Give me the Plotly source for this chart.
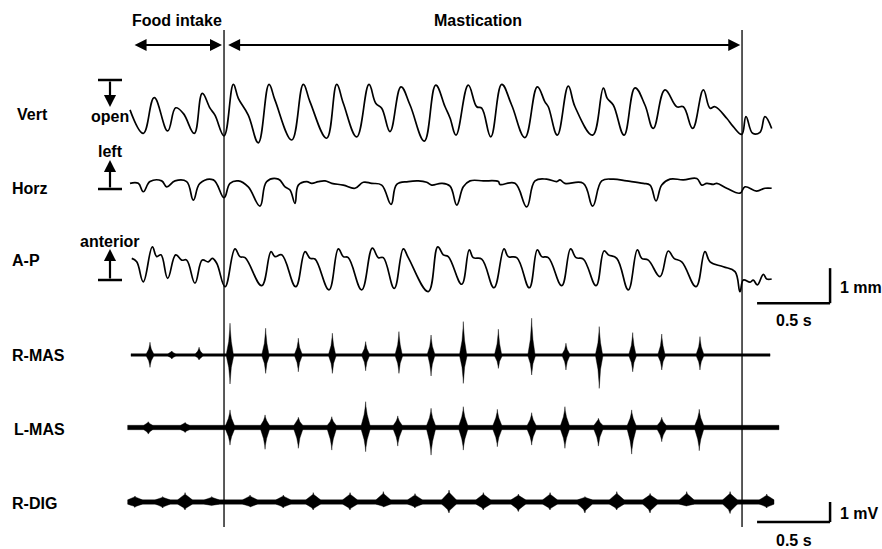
import plotly.graph_objects as go

# ---------------- data (time in s, displacement in mm, EMG in mV) ----------------
vert_t = [0.000,0.091,0.166,0.258,0.313,0.365,0.440,0.495,0.548,0.582,0.644,0.708,0.742,0.810,0.879,
          0.952,0.993,1.108,1.187,1.233,1.347,1.416,1.461,1.553,1.637,1.683,1.724,1.781,1.856,1.918,
          2.016,2.094,2.158,2.192,2.233,2.317,2.375,2.409,2.471,2.546,2.614,2.705,2.790,2.842,2.865,
          2.927,3.002,3.048,3.169,3.242,3.269,3.310,3.384,3.459,3.527,3.584,3.664,3.745,3.790,3.854,
          3.927,3.973,4.007,4.087,4.132,4.190,4.219,4.265,4.315,4.349,4.395]
vert_mm = [0.06,-0.61,0.41,-0.54,0.12,-0.04,-0.61,0.53,0.11,-0.09,-0.68,0.79,0.39,-0.09,-0.88,
           0.79,0.34,-0.80,0.79,0.29,-0.75,0.79,0.25,-0.71,0.79,0.25,0.11,-0.56,0.72,0.20,
           -0.83,0.77,0.15,-0.17,-0.66,0.77,0.15,0.11,-0.71,0.79,0.20,-0.73,0.72,0.29,0.15,
           -0.66,0.74,0.15,-0.66,0.68,0.39,0.20,-0.66,0.69,0.20,-0.47,0.63,0.15,0.15,-0.47,
           0.63,0.11,0.15,-0.18,-0.42,-0.64,-0.13,-0.61,-0.58,-0.13,-0.47]

horz_t = [0.000,0.057,0.091,0.137,0.217,0.251,0.308,0.388,0.434,0.479,0.571,0.644,0.685,0.742,0.810,
          0.890,0.936,1.016,1.062,1.096,1.130,1.153,1.210,1.245,1.290,1.336,1.382,1.461,1.541,1.598,
          1.655,1.724,1.788,1.827,1.906,1.975,2.032,2.066,2.134,2.192,2.238,2.283,2.329,2.420,2.523,
          2.534,2.637,2.717,2.774,2.854,2.923,2.945,2.979,3.105,3.169,3.231,3.310,3.402,3.516,3.562,
          3.603,3.642,3.699,3.790,3.882,3.916,3.950,3.996,4.019,4.087,4.178,4.212,4.292,4.349,4.395]
horz_mm = [-0.01,-0.01,-0.25,0.04,0.06,-0.11,0.06,0.04,-0.49,-0.01,0.09,-0.42,-0.01,0.06,-0.11,
           -0.66,0.04,0.11,-0.11,-0.20,-0.58,-0.06,0.04,-0.01,0.04,0.06,-0.01,-0.06,-0.15,0.02,
           -0.01,-0.06,-0.61,-0.04,0.04,0.06,0.02,-0.06,-0.01,-0.09,-0.63,-0.11,0.06,0.06,0.04,
           -0.04,-0.01,-0.68,0.06,0.11,0.04,0.09,-0.01,-0.01,-0.66,0.06,0.11,0.06,-0.01,-0.06,
           -0.51,-0.06,0.11,0.09,0.13,-0.06,-0.01,-0.04,-0.01,-0.15,-0.29,-0.11,-0.23,-0.15,-0.15]

ap_t = [0.012,0.046,0.091,0.153,0.183,0.212,0.258,0.313,0.354,0.388,0.445,0.495,0.536,0.564,0.594,
        0.651,0.719,0.753,0.788,0.902,0.966,0.993,1.039,1.135,1.199,1.233,1.267,1.363,1.427,1.461,
        1.495,1.587,1.660,1.701,1.735,1.810,1.872,1.906,2.043,2.108,2.146,2.180,2.272,2.324,2.351,
        2.409,2.493,2.562,2.591,2.649,2.735,2.790,2.820,2.865,2.957,3.018,3.055,3.105,3.192,3.247,
        3.277,3.334,3.413,3.475,3.505,3.550,3.630,3.687,3.726,3.779,3.877,3.938,3.973,4.064,4.144,
        4.178,4.201,4.247,4.269,4.297,4.338,4.361,4.395]
ap_mm = [0.19,0.09,-0.48,0.52,0.24,0.29,-0.38,0.29,0.14,0.14,-0.52,0.14,0.09,0.19,0.05,
         -0.62,0.46,0.24,0.21,-0.59,0.38,0.24,0.29,-0.62,0.38,0.19,0.17,-0.71,0.46,0.24,
         0.21,-0.71,0.48,0.21,0.21,-0.67,0.46,0.21,-0.76,0.52,0.29,0.24,-0.55,0.43,0.21,
         0.17,-0.65,0.46,0.24,0.21,-0.65,0.43,0.24,0.21,-0.59,0.46,0.21,0.17,-0.59,0.40,
         0.29,0.19,-0.71,0.43,0.19,0.14,-0.33,0.40,0.19,0.09,-0.62,0.38,0.09,-0.05,-0.19,
         -0.76,-0.43,-0.49,-0.43,-0.57,-0.27,-0.40,-0.40]

# EMG bursts: centre time (s), positive peak (mV), negative peak (mV)
rmas_t   = [0.137,0.286,0.473,0.685,0.929,1.153,1.386,1.614,1.842,2.062,2.283,2.523,2.751,2.986,3.214,3.443,3.642,3.904]
rmas_top = [0.64,0.20,0.39,1.59,1.34,0.84,1.09,0.67,1.17,1.00,1.67,1.29,1.84,0.59,1.42,1.12,1.05,0.92]
rmas_bot = [-0.62,-0.20,-0.25,-1.45,-0.92,-0.84,-0.92,-0.79,-0.92,-1.05,-1.42,-0.67,-1.00,-0.75,-1.67,-0.84,-0.75,-0.75]

lmas_t   = [0.125,0.377,0.685,0.925,1.153,1.382,1.614,1.834,2.062,2.283,2.516,2.751,2.979,3.208,3.436,3.642,3.899]
lmas_top = [0.29,0.25,0.88,0.63,0.51,0.54,1.29,0.58,0.96,1.04,0.91,0.74,1.04,0.46,0.88,0.51,0.91]
lmas_bot = [-0.33,-0.25,-0.88,-1.09,-1.04,-1.13,-1.21,-0.93,-1.38,-1.13,-0.96,-0.88,-1.04,-0.93,-1.33,-0.71,-1.16]

rdig_t   = [0.034,0.224,0.377,0.560,0.822,1.050,1.255,1.507,1.735,1.952,2.185,2.420,2.660,2.877,3.116,3.334,3.562,3.813,4.110,4.361]
rdig_top = [0.30,0.27,0.47,0.27,0.35,0.35,0.47,0.47,0.52,0.42,0.60,0.47,0.40,0.47,0.27,0.52,0.43,0.52,0.52,0.40]
rdig_bot = [-0.27,-0.30,-0.40,-0.20,-0.25,-0.30,-0.40,-0.40,-0.25,-0.30,-0.55,-0.40,-0.48,-0.40,-0.55,-0.40,-0.55,-0.23,-0.58,-0.30]

# baseline noise half-amplitude (mV) and recording span (s)
emg_noise = {"R-MAS": 0.065, "L-MAS": 0.11, "R-DIG": 0.11}
emg_span = {"R-MAS": (0.007, 4.384), "L-MAS": (-0.016, 4.445), "R-DIG": (0.007, 4.384)}

events = [0.644, 4.192]          # end of food intake, end of mastication (s)
phase_labels = ["Food intake", "Mastication"]
channel_labels = ["Vert", "Horz", "A-P", "R-MAS", "L-MAS", "R-DIG"]

for a, b in [(vert_t, vert_mm), (horz_t, horz_mm), (ap_t, ap_mm), (rmas_t, rmas_top), (rmas_t, rmas_bot),
             (lmas_t, lmas_top), (lmas_t, lmas_bot), (rdig_t, rdig_top), (rdig_t, rdig_bot)]:
    assert len(a) == len(b)

# ---------------- layout constants ----------------
W, H = 882, 549
PX_PER_S = 146.0
T0_PX = 130.0
PX_PER_MM = 35.0
PX_PER_MV = 20.0
baseline_px = {"Vert": 112, "Horz": 183, "A-P": 265, "R-MAS": 355, "L-MAS": 427.5, "R-DIG": 502}
axis_of = {"Vert": "y", "Horz": "y2", "A-P": "y3", "R-MAS": "y4", "L-MAS": "y5", "R-DIG": "y6"}
FONT = "Liberation Sans, Arial, sans-serif"


def py(p):   # pixel row -> paper
    return 1 - p / H


def px(p):   # pixel column -> paper
    return p / W


fig = go.Figure()

# mechanical traces
for name, t, v in [("Vert", vert_t, vert_mm), ("Horz", horz_t, horz_mm), ("A-P", ap_t, ap_mm)]:
    fig.add_trace(go.Scatter(x=t, y=v, yaxis=axis_of[name], mode="lines",
                             line=dict(color="black", width=1.7, shape="spline", smoothing=1.15),
                             hoverinfo="skip", showlegend=False))

# EMG traces: baseline band + burst spindles (glyph profiles are styling only)
profiles = {"R-MAS": (0.05, [(-0.5, 0), (-0.18, 0.4), (-0.04, 0.8), (0, 1), (0.04, 0.8), (0.18, 0.4), (0.5, 0)]),
            "L-MAS": (0.06, [(-0.5, 0), (-0.18, 0.45), (-0.04, 0.8), (0, 1), (0.04, 0.8), (0.18, 0.45), (0.5, 0)]),
            "R-DIG": (0.10, [(-0.5, 0), (-0.3, 0.3), (-0.1, 0.6), (-0.03, 0.75), (0, 1),
                             (0.05, 0.7), (0.15, 0.55), (0.3, 0.3), (0.5, 0)])}
for name, bt, top, bot in [("R-MAS", rmas_t, rmas_top, rmas_bot),
                           ("L-MAS", lmas_t, lmas_top, lmas_bot),
                           ("R-DIG", rdig_t, rdig_top, rdig_bot)]:
    n = emg_noise[name]
    t0, t1 = emg_span[name]
    w, prof = profiles[name]
    xs = [t0, t1, t1, t0, t0, None]
    ys = [n, n, -n, -n, n, None]
    for c, a, b in zip(bt, top, bot):
        up = [(c + f * w, n + (a - n) * g) for f, g in prof]
        dn = [(c + f * w, -n + (b + n) * g) for f, g in reversed(prof)]
        pts = up + dn + [up[0]]
        xs += [p[0] for p in pts] + [None]
        ys += [p[1] for p in pts] + [None]
    fig.add_trace(go.Scatter(x=xs, y=ys, yaxis=axis_of[name], mode="lines", fill="toself",
                             fillcolor="black", line=dict(color="black", width=0.4),
                             hoverinfo="skip", showlegend=False))

# axes
xr = [-T0_PX / PX_PER_S, (W - T0_PX) / PX_PER_S]
layout_axes = dict(xaxis=dict(range=xr, visible=False, fixedrange=True))
for name, ax in axis_of.items():
    s = PX_PER_MM if name in ("Vert", "Horz", "A-P") else PX_PER_MV
    b = baseline_px[name]
    key = "yaxis" if ax == "y" else "yaxis" + ax[1:]
    d = dict(range=[(b - H) / s, b / s], visible=False, fixedrange=True, domain=[0, 1])
    if ax != "y":
        d["overlaying"] = "y"
    layout_axes[key] = d

shapes = []
# event lines
for e in events:
    shapes.append(dict(type="line", xref="x", yref="paper", x0=e, x1=e, y0=py(527), y1=py(30),
                       line=dict(color="black", width=1.3)))
# T-bars for direction indicators
for yb in [80, 189, 280]:
    shapes.append(dict(type="line", xref="paper", yref="paper", x0=px(98), x1=px(122), y0=py(yb), y1=py(yb),
                       line=dict(color="black", width=2.5)))
# scale bars: 1 mm / 0.5 s on A-P axis, 1 mV / 0.5 s on R-DIG axis
sb_x1 = 4.795
ap_b = -1.09
shapes.append(dict(type="line", xref="x", yref="y3", x0=sb_x1, x1=sb_x1, y0=ap_b, y1=ap_b + 1.0,
                   line=dict(color="black", width=2.5)))
shapes.append(dict(type="line", xref="x", yref="y3", x0=sb_x1 - 0.5, x1=sb_x1, y0=ap_b, y1=ap_b,
                   line=dict(color="black", width=2.5)))
dg_b = -1.0
shapes.append(dict(type="line", xref="x", yref="y6", x0=sb_x1, x1=sb_x1, y0=dg_b, y1=dg_b + 1.0,
                   line=dict(color="black", width=2.5)))
shapes.append(dict(type="line", xref="x", yref="y6", x0=sb_x1 - 0.5, x1=sb_x1, y0=dg_b, y1=dg_b,
                   line=dict(color="black", width=2.5)))

bold = dict(family=FONT, size=16, color="black", weight="bold")
ann = []
# channel labels
label_pos = {"Vert": (15, 114), "Horz": (9.5, 188), "A-P": (10, 260.5),
             "R-MAS": (9.5, 355), "L-MAS": (11.5, 429), "R-DIG": (9.5, 503)}
for name in channel_labels:
    x0, y0 = label_pos[name]
    ann.append(dict(text=name, xref="paper", yref="paper", x=px(x0), y=py(y0), xanchor="left",
                    yanchor="middle", showarrow=False, font=bold))
# direction words
for txt, xc, yc in [("open", 109.5, 116.5), ("left", 110.5, 151.5), ("anterior", 110, 241.5)]:
    ann.append(dict(text=txt, xref="paper", yref="paper", x=px(xc), y=py(yc), xanchor="center",
                    yanchor="middle", showarrow=False, font=bold))
# direction arrows
for tip, tail in [(107, 80), (160, 189), (249, 280)]:
    ann.append(dict(text="", xref="paper", yref="paper", x=px(110), y=py(tip), ax=0, ay=tail - tip,
                    showarrow=True, arrowhead=2, arrowsize=1.1, arrowwidth=2.2, arrowcolor="black"))
# phase arrows
for (a, b) in [(0.021, 0.630), (0.662, 4.180)]:
    ann.append(dict(text="", xref="x", yref="paper", x=b, y=py(45), axref="x", ax=a, ayref="pixel", ay=0,
                    showarrow=True, arrowhead=2, arrowside="end+start", arrowsize=1.2, arrowwidth=2,
                    arrowcolor="black"))
ann.append(dict(text=phase_labels[0], xref="x", yref="paper", x=0.32, y=py(20.5), showarrow=False,
                xanchor="center", yanchor="middle", font=bold))
ann.append(dict(text=phase_labels[1], xref="x", yref="paper", x=2.384, y=py(20.5), showarrow=False,
                xanchor="center", yanchor="middle", font=bold))
# scale bar labels
for txt, xl, yl, anchor in [("1 mm", 838, 287, "left"), ("0.5 s", 794, 320, "center"),
                            ("1 mV", 838, 513, "left"), ("0.5 s", 794, 540, "center")]:
    ann.append(dict(text=txt, xref="paper", yref="paper", x=px(xl), y=py(yl), xanchor=anchor,
                    yanchor="middle", showarrow=False, font=bold))

fig.update_layout(width=W, height=H, margin=dict(l=0, r=0, t=0, b=0), paper_bgcolor="white",
                  plot_bgcolor="white", showlegend=False, shapes=shapes, annotations=ann,
                  font=dict(family=FONT), **layout_axes)

fig.write_html("out.html", config={"displayModeBar": False},
               post_script="document.body.style.margin='0';")
